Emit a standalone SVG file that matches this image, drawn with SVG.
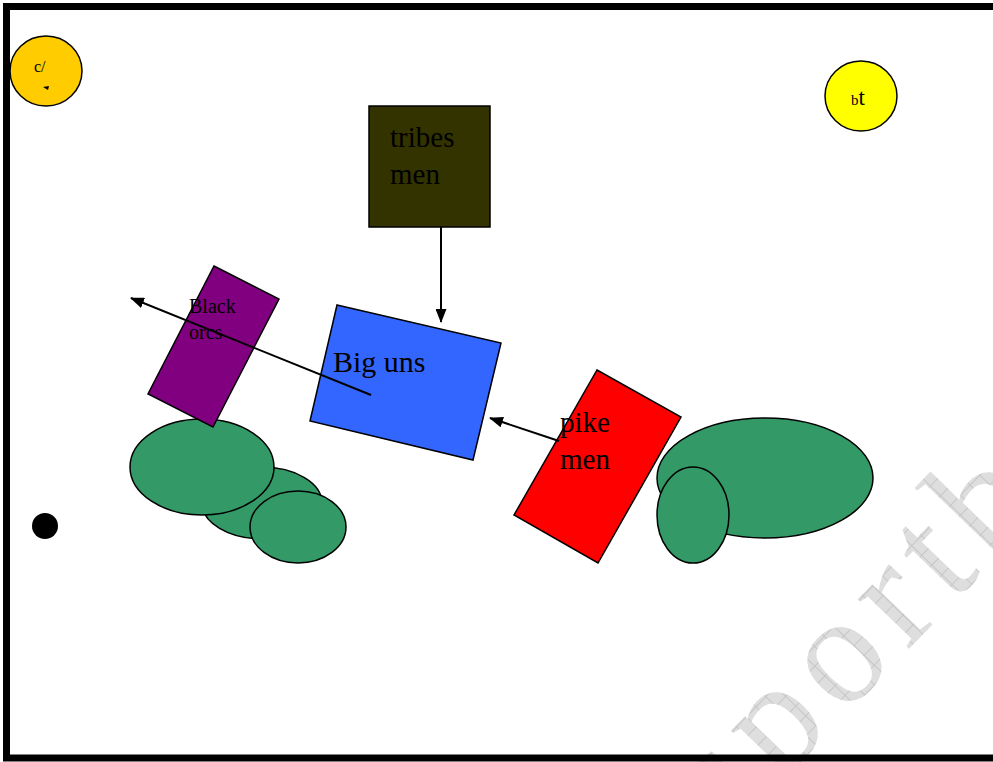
<svg xmlns="http://www.w3.org/2000/svg" width="993" height="762" viewBox="0 0 993 762">
<style>
.t{font-family:"Liberation Serif","Times New Roman",serif;fill:#000}
.sh{stroke:#000;stroke-width:1.5}
.ell{fill:#339966;stroke:#000;stroke-width:1.5}
.con{stroke:#000;stroke-width:2;fill:none}
</style>
<defs>
<marker id="ah" viewBox="0 0 14 11" refX="13" refY="5.5" markerWidth="14" markerHeight="11" markerUnits="userSpaceOnUse" orient="auto">
<path d="M0,0 L14,5.5 L0,11 z" fill="#000"/>
</marker>
<pattern id="grid" width="14" height="14" patternUnits="userSpaceOnUse">
<rect width="14" height="14" fill="#dedede"/>
<path d="M0,0.5 H14 M0.5,0 V14" stroke="#c6c6c6" stroke-width="1"/>
</pattern>
</defs>
<rect width="993" height="762" fill="#fff"/>
<g id="watermark">
<text class="t" x="0" y="0" font-size="155" letter-spacing="14" style="fill:url(#grid)" transform="translate(728,836) rotate(-46)">sportbox</text>
</g>
<rect id="frame" x="6.5" y="6.5" width="1000" height="751.5" fill="none" stroke="#000" stroke-width="7"/>
<g id="ellipses-left">
<ellipse class="ell" cx="262" cy="503" rx="60" ry="36"/>
<ellipse class="ell" cx="202" cy="467" rx="72" ry="48"/>
<ellipse class="ell" cx="298" cy="527" rx="48" ry="36"/>
</g>
<g id="ellipses-right">
<ellipse class="ell" cx="765" cy="478" rx="108" ry="60"/>
<ellipse class="ell" cx="693" cy="515" rx="36" ry="48"/>
</g>
<g id="node-orange">
<ellipse cx="46" cy="71" rx="36" ry="35" fill="#FFCC00" stroke="#000" stroke-width="1.5"/>
<text class="t" x="34" y="72" font-size="16">c/</text>
<path d="M43,87 L49,86 L48,90 z" fill="#000"/>
</g>
<g id="node-yellow">
<ellipse cx="861" cy="96" rx="36" ry="35" fill="#FFFF00" stroke="#000" stroke-width="1.5"/>
<text class="t" x="851" y="105" font-size="15">b<tspan font-size="23">t</tspan></text>
</g>
<g id="node-dot">
<circle cx="45" cy="526" r="13" fill="#000"/>
</g>
<g id="node-tribesmen">
<rect class="sh" x="369" y="106" width="121" height="121" fill="#333300"/>
<text class="t" x="390" y="147" font-size="29">tribes</text>
<text class="t" x="390" y="184" font-size="29">men</text>
</g>
<g id="node-bigunss">
<polygon class="sh" points="337,305 501,343 473,460 310,421" fill="#3366FF"/>
<text class="t" x="333" y="372" font-size="30">Big uns</text>
</g>
<g id="node-blackorcs">
<polygon class="sh" points="214,266 279,299 213,427 148,394" fill="#800080"/>
<text class="t" x="189" y="313" font-size="20">Black</text>
<text class="t" x="189" y="339" font-size="20">orcs</text>
</g>
<g id="node-pikemen">
<polygon class="sh" points="597,370 681,417 598,563 514,515" fill="#FF0000"/>
<text class="t" x="560" y="432" font-size="29">pike</text>
<text class="t" x="560" y="469" font-size="29">men</text>
</g>
<g id="connectors">
<line class="con" x1="441" y1="227" x2="441" y2="322" marker-end="url(#ah)"/>
<line class="con" x1="371" y1="395" x2="131" y2="298" marker-end="url(#ah)"/>
<line class="con" x1="559" y1="441" x2="490" y2="418" marker-end="url(#ah)"/>
</g>
</svg>
